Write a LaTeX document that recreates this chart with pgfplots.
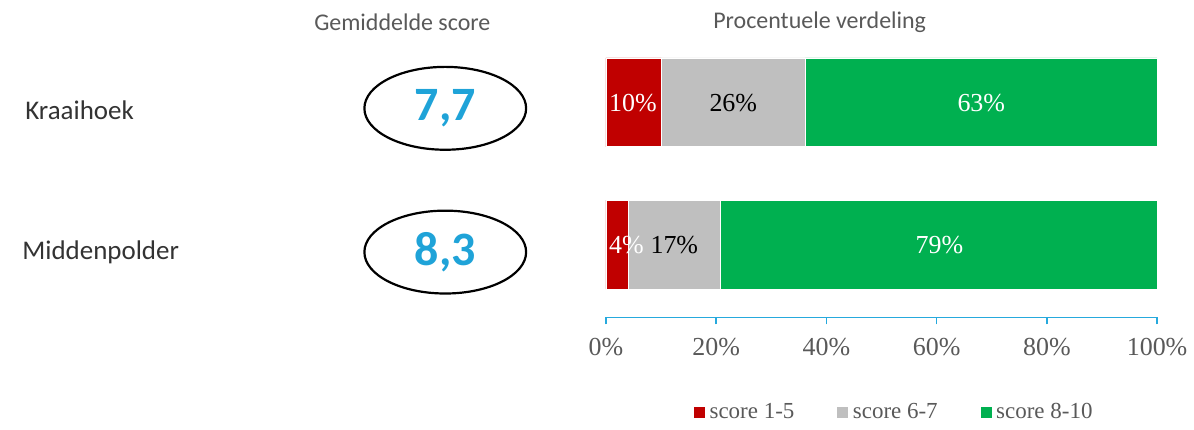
\documentclass[border=0pt]{standalone}
\usepackage{fontspec}
\setmainfont{Liberation Serif}
\newfontfamily\calfont{Carlito}
\usepackage{pgfplots}
\pgfplotsset{compat=1.18}
\definecolor{sred}{HTML}{C00000}
\definecolor{sgray}{HTML}{BFBFBF}
\definecolor{sgreen}{HTML}{00B050}
\definecolor{axblue}{HTML}{26A9DD}
\definecolor{numblue}{HTML}{1FA3D8}
\definecolor{txtgray}{HTML}{595959}

\begin{document}
\begin{tikzpicture}
% pixel grid of the reference: 1 px = 0.5pt
\begin{scope}[x=0.5pt,y=-0.5pt]
\useasboundingbox (0,0) rectangle (1194,426);
\node[font=\calfont\fontsize{12}{14}\selectfont, text=txtgray] at (403,22) {Gemiddelde score};
\node[font=\calfont\fontsize{12}{14}\selectfont, text=txtgray] at (821,22) {Procentuele verdeling};
\node[anchor=west, inner sep=0pt, font=\calfont\fontsize{13.5}{16}\selectfont, text=black!80] at (25,110) {Kraaihoek};
\node[anchor=west, inner sep=0pt, font=\calfont\fontsize{13.5}{16}\selectfont, text=black!80] at (22,253) {Middenpolder};
\draw[line width=1.1pt] (446,108.5) ellipse (40.5pt and 20.75pt);
\draw[line width=1.1pt] (446,252.5) ellipse (40.5pt and 20.75pt);
\node[font=\calfont\bfseries\fontsize{24}{28}\selectfont, text=numblue] at (446,108) {7,7};
\node[font=\calfont\bfseries\fontsize{24}{28}\selectfont, text=numblue] at (446,253) {8,3};
\end{scope}

\begin{axis}[
    at={(303.5pt,-159pt)}, anchor=south west,
    scale only axis, width=276pt, height=130pt,
    xbar stacked, bar width=89,
    xmin=0, xmax=100, ymin=-318, ymax=-58,
    axis y line=none, axis x line*=bottom,
    x axis line style={axblue, line width=0.75pt, -},
    xtick={0,20,40,60,80,100},
    xticklabels={0\%,20\%,40\%,60\%,80\%,100\%},
    tick align=outside, major tick length=3.5pt,
    tick style={axblue, line width=0.75pt},
    xticklabel style={font=\fontsize{13}{15}\selectfont, text=txtgray, yshift=-3.5pt},
    clip=false,
    legend style={at={(0.524,-0.365)}, anchor=center, legend columns=-1,
        draw=none, fill=none, font=\fontsize{11.5}{13}\selectfont, text=txtgray,
        /tikz/every even column/.append style={column sep=19pt}},
    legend image code/.code={\fill[#1] (0pt,-3pt) rectangle (6pt,3pt);},
]
\addplot[fill=sred, draw=white, line width=0.3pt] coordinates {(10,-102.5) (4,-245)};
\addplot[fill=sgray, draw=white, line width=0.3pt] coordinates {(26.2,-102.5) (16.8,-245)};
\addplot[fill=sgreen, draw=white, line width=0.3pt] coordinates {(63.8,-102.5) (79.2,-245)};
\legend{score 1-5, score 6-7, score 8-10}
\coordinate (k1) at (axis cs:4.9,-103);
\coordinate (k2) at (axis cs:23.1,-103);
\coordinate (k3) at (axis cs:68.1,-103);
\coordinate (m1) at (axis cs:3.7,-245.5);
\coordinate (m2) at (axis cs:12.4,-245.5);
\coordinate (m3) at (axis cs:60.5,-245.5);
\end{axis}
\begin{scope}[every node/.style={font=\fontsize{13}{15}\selectfont}]
\node[text=white] at (k1) {10\%};
\node[text=black] at (k2) {26\%};
\node[text=white] at (k3) {63\%};
\node[text=white] at (m1) {4\%};
\node[text=black] at (m2) {17\%};
\node[text=white] at (m3) {79\%};
\end{scope}
\end{tikzpicture}
\end{document}
